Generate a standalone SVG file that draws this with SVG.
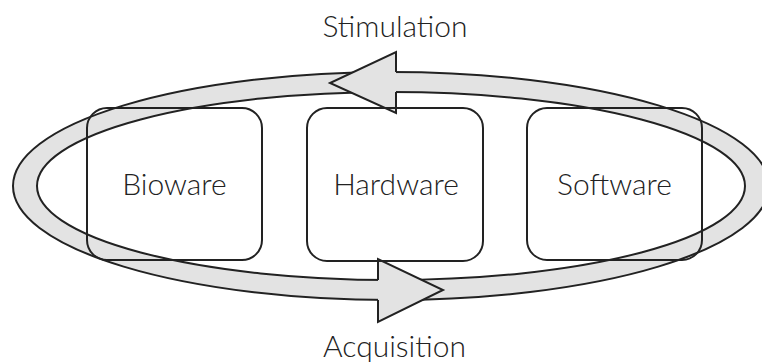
<svg xmlns="http://www.w3.org/2000/svg" width="762" height="363" viewBox="0 0 762 363">
<style>
.ring{stroke:#222;stroke-width:2}
.arrow{fill:#e3e3e3;stroke:#222;stroke-width:2;stroke-linejoin:miter}
.box{fill:none;stroke:#222;stroke-width:2}
.lbl{font-family:Lato,"Open Sans","DejaVu Sans",sans-serif;font-weight:300;font-size:30px;fill:#222;text-anchor:middle}
</style>
<rect width="762" height="363" fill="#fff"/>
<g id="connectors">
<ellipse class="ring" cx="391" cy="186" rx="378" ry="114" fill="#e3e3e3"/>
<ellipse class="ring" cx="391" cy="186" rx="354" ry="94" fill="#fff"/>
<path class="arrow" d="M396,72 L396,52 L330,83 L396,113 L396,92" />
<path class="arrow" d="M378,280 L378,259 L443,290 L378,322 L378,300" />
</g>
<g id="bioware">
<rect class="box" x="87" y="108" width="175" height="152" rx="20"/>
<text class="lbl" x="174.5" y="195">Bioware</text>
</g>
<g id="hardware">
<rect class="box" x="307" y="108" width="176" height="153" rx="20"/>
<text class="lbl" x="396" y="195">Hardware</text>
</g>
<g id="software">
<rect class="box" x="527" y="108" width="175" height="152" rx="20"/>
<text class="lbl" x="614.5" y="195">Software</text>
</g>
<text id="stimulation" class="lbl" x="395" y="37">Stimulation</text>
<text id="acquisition" class="lbl" x="394.5" y="357">Acquisition</text>
</svg>
